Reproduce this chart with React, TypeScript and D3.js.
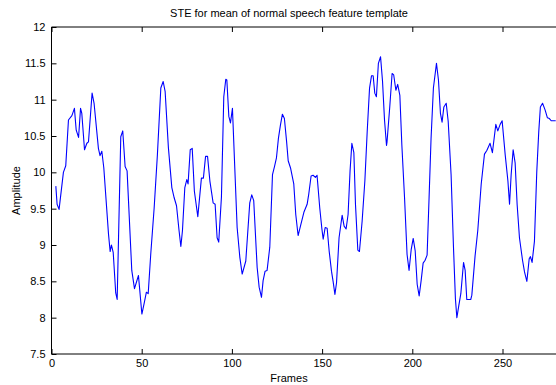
import { useEffect, useRef } from "react";
import * as d3 from "d3";

// frame positions of the traced vertices
const frames = [
    2.4, 3.1, 4.2, 6.6, 7.9, 9.4, 11.3, 12.7, 13.7, 15.0, 16.1, 16.8, 18.3, 19.6, 20.5, 22.5, 23.6, 26.0, 26.9, 27.9,
    29.0, 31.6, 32.5, 33.2, 34.2, 35.6, 36.4, 38.4, 39.5, 40.8, 41.9, 44.5, 46.0, 48.2, 50.1, 51.3, 52.6, 53.6, 55.0,
    56.9, 58.7, 60.6, 61.9, 63.0, 64.8, 66.7, 68.0, 69.3, 70.7, 71.7, 72.6, 73.9, 75.0, 75.7, 76.9, 78.0, 79.2, 81.1,
    83.1, 84.2, 85.4, 86.5, 87.8, 89.6, 90.7, 91.8, 92.7, 94.2, 95.5, 96.6, 97.2, 98.3, 99.2, 100.3, 101.6, 102.9,
    104.4, 105.7, 107.7, 109.9, 111.0, 112.1, 114.0, 115.1, 116.4, 117.3, 118.4, 119.5, 121.0, 122.5, 123.6, 124.7,
    125.8, 126.9, 128.0, 129.1, 130.3, 131.2, 132.5, 134.3, 135.4, 136.7, 138.0, 139.9, 141.7, 142.6, 143.9, 145.0,
    146.3, 147.2, 148.7, 149.8, 150.6, 151.7, 152.8, 153.9, 155.2, 156.1, 157.1, 158.0, 159.4, 161.1, 162.2, 163.3,
    164.4, 165.5, 166.5, 167.6, 168.5, 169.8, 170.7, 172.2, 173.7, 175.0, 176.3, 177.4, 178.3, 179.2, 180.1, 181.2,
    182.4, 183.5, 184.6, 185.7, 186.0, 187.5, 188.8, 189.7, 190.9, 191.9, 193.1, 194.2, 195.7, 197.1, 198.2, 199.4,
    200.5, 201.6, 202.7, 203.8, 204.9, 206.0, 207.1, 208.2, 209.3, 210.4, 211.7, 213.4, 214.5, 215.6, 216.5, 217.5,
    218.8, 219.9, 221.5, 222.8, 223.9, 224.7, 225.8, 226.9, 228.4, 229.3, 230.2, 232.4, 233.0, 234.8, 236.3, 238.2,
    240.0, 241.3, 243.1, 244.4, 246.3, 247.4, 248.7, 249.8, 251.5, 253.0, 253.9, 254.8, 255.9, 257.0, 258.1, 259.4,
    261.1, 262.2, 263.5, 264.8, 265.5, 266.4, 267.7, 269.0, 270.1, 271.0, 272.2, 273.6, 274.9, 276.0, 277.0, 278.3,
    279.5,
];

const amplitude = [
    9.81, 9.56, 9.49, 10.00, 10.09, 10.72, 10.78, 10.88, 10.58, 10.48, 10.88, 10.81, 10.31, 10.40, 10.42, 11.09, 10.95,
    10.33, 10.23, 10.29, 10.06, 9.15, 8.91, 9.00, 8.90, 8.34, 8.25, 10.49, 10.57, 10.08, 10.02, 8.65, 8.40, 8.58, 8.05,
    8.19, 8.35, 8.33, 8.87, 9.51, 10.24, 11.16, 11.25, 11.11, 10.34, 9.79, 9.65, 9.54, 9.20, 8.98, 9.20, 9.79, 9.90,
    9.84, 10.31, 10.33, 9.74, 9.39, 9.92, 9.92, 10.22, 10.22, 9.88, 9.58, 9.56, 9.10, 9.04, 9.66, 11.04, 11.28, 11.27,
    10.77, 10.68, 10.88, 10.06, 9.24, 8.83, 8.60, 8.78, 9.58, 9.69, 9.61, 8.69, 8.42, 8.28, 8.51, 8.64, 8.65, 8.97,
    9.97, 10.08, 10.20, 10.47, 10.65, 10.80, 10.74, 10.43, 10.16, 10.06, 9.84, 9.42, 9.13, 9.26, 9.45, 9.56, 9.70,
    9.95, 9.96, 9.93, 9.96, 9.51, 9.24, 9.08, 9.24, 9.23, 8.92, 8.64, 8.50, 8.32, 8.48, 9.10, 9.41, 9.26, 9.22, 9.42,
    10.02, 10.40, 10.27, 9.56, 8.93, 8.91, 9.33, 9.88, 10.56, 11.16, 11.33, 11.33, 11.09, 11.04, 11.50, 11.59, 11.25,
    10.72, 10.37, 10.42, 10.90, 11.36, 11.34, 11.13, 11.21, 11.06, 10.38, 9.65, 8.87, 8.65, 8.94, 9.09, 8.92, 8.46,
    8.30, 8.51, 8.75, 8.79, 8.86, 9.65, 10.47, 11.16, 11.50, 11.27, 10.81, 10.69, 10.90, 10.95, 10.70, 9.97, 8.99,
    8.26, 8.00, 8.17, 8.33, 8.76, 8.65, 8.25, 8.25, 8.31, 8.85, 9.20, 9.84, 10.25, 10.30, 10.40, 10.27, 10.66, 10.57,
    10.66, 10.71, 10.24, 9.88, 9.56, 9.97, 10.31, 10.13, 9.56, 9.10, 8.79, 8.63, 8.50, 8.81, 8.84, 8.76, 9.05, 10.01,
    10.56, 10.90, 10.95, 10.86, 10.75, 10.74, 10.71, 10.71, 10.71,
];

const xTicks = [0, 50, 100, 150, 200, 250];
const yTicks = [7.5, 8, 8.5, 9, 9.5, 10, 10.5, 11, 11.5, 12];

const titleText = "STE for mean of normal speech feature template";
const xLabel = "Frames";
const yLabel = "Amplitude";

export default function App() {
    const ref = useRef(null);

    useEffect(() => {
        const width = 556;
        const height = 385;
        const left = 51.5;
        const top = 27;
        const bottom = 354;
        const right = left + 290 * 1.804; // axes box runs past the picture edge
        const font = "'Liberation Sans', Arial, sans-serif";

        const svg = d3.select(ref.current)
            .append("svg")
                .attr("width", width)
                .attr("height", height)
                .style("position", "fixed")
                .style("left", 0)
                .style("top", 0)
                .style("background", "white");

        const x = d3.scaleLinear().domain([0, 290]).range([left, right]);
        const y = d3.scaleLinear().domain([7.5, 12]).range([bottom, top]);

        svg.append("clipPath").attr("id", "plotclip")
            .append("rect")
                .attr("x", left).attr("y", top)
                .attr("width", right - left).attr("height", bottom - top);

        const line = d3.line<number>()
            .x((d, i) => x(frames[i]))
            .y((d) => y(d));

        svg.append("path")
            .datum(amplitude)
            .attr("clip-path", "url(#plotclip)")
            .attr("fill", "none")
            .attr("stroke", "#0000ff")
            .attr("stroke-width", 1.1)
            .attr("stroke-linejoin", "round")
            .attr("d", line);

        const styleAxis = (g: any) => {
            g.select(".domain").remove();
            g.selectAll("line").attr("stroke", "#000");
            g.selectAll("text")
                .attr("fill", "#000")
                .style("font-family", font)
                .style("font-size", "11px");
        };

        svg.append("g")
            .attr("transform", `translate(0,${bottom})`)
            .call(d3.axisBottom(x).tickValues(xTicks).tickFormat(d3.format("d")).tickSizeInner(-5).tickSizeOuter(0).tickPadding(5))
            .call(styleAxis);

        svg.append("g")
            .attr("transform", `translate(0,${top})`)
            .call(d3.axisTop(x).tickValues(xTicks).tickFormat(() => "").tickSizeInner(-5).tickSizeOuter(0))
            .call(styleAxis);

        svg.append("g")
            .attr("transform", `translate(${left},0)`)
            .call(d3.axisLeft(y).tickValues(yTicks).tickFormat((d: any) => String(d)).tickSizeInner(-5).tickSizeOuter(0).tickPadding(6))
            .call(styleAxis);

        // box
        svg.append("path")
            .attr("d", `M${right},${top}H${left}V${bottom}H${right}`)
            .attr("fill", "none")
            .attr("stroke", "#000")
            .attr("stroke-width", 1);

        const mid = 289;
        svg.append("text")
            .attr("x", mid).attr("y", 17)
            .attr("text-anchor", "middle")
            .style("font-family", font).style("font-size", "11px")
            .text(titleText);

        svg.append("text")
            .attr("x", mid).attr("y", 382)
            .attr("text-anchor", "middle")
            .style("font-family", font).style("font-size", "11px")
            .text(xLabel);

        svg.append("text")
            .attr("transform", `translate(20,${(top + bottom) / 2}) rotate(-90)`)
            .attr("text-anchor", "middle")
            .style("font-family", font).style("font-size", "11px")
            .text(yLabel);

        return () => {
            d3.select(ref.current).selectAll("*").remove();
        };
    }, [ref]);

    return (
        <div ref={ref} />
    );
}
